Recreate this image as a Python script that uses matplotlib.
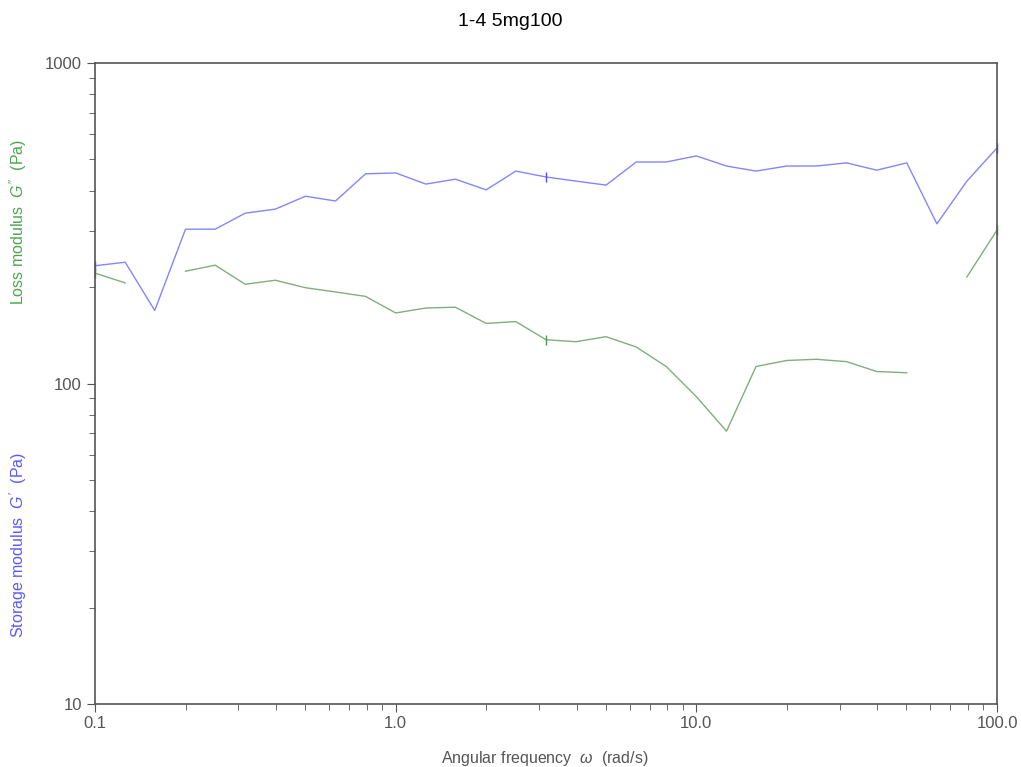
import matplotlib
matplotlib.use("Agg")
import matplotlib.pyplot as plt
import numpy as np
from matplotlib.ticker import FixedLocator, FixedFormatter, LogLocator, NullFormatter

plt.rcParams["font.family"] = ["Liberation Sans", "DejaVu Sans"]
plt.rcParams["mathtext.fontset"] = "custom"
plt.rcParams["mathtext.it"] = "Liberation Sans:italic"
plt.rcParams["mathtext.rm"] = "Liberation Sans"

# angular frequency (rad/s), 10 points per decade
omega = [0.1, 0.126, 0.158, 0.2, 0.251, 0.316, 0.398, 0.501, 0.631, 0.794,
         1.0, 1.26, 1.58, 2.0, 2.51, 3.16, 3.98, 5.01, 6.31, 7.94,
         10.0, 12.6, 15.8, 20.0, 25.1, 31.6, 39.8, 50.1, 63.1, 79.4, 100.0]

# storage modulus G' (Pa)
g_storage = [233, 239, 169, 303, 303, 340, 350, 384, 371, 451,
             454, 419, 434, 402, 460, 441, 428, 416, 491, 491,
             513, 477, 460, 477, 477, 488, 463, 488, 315, 428, 543]

# loss modulus G'' (Pa), nan = missing point
g_loss = [221, 206, np.nan, 224, 234, 204, 210, 199, 193, 187,
          166, 172, 173, 154, 156, 137, 135, 140, 130, 113,
          91, 71, 113, 118, 119, 117, 109, 108, np.nan, 215, 301]

title = "1-4 5mg100"

fig = plt.figure(figsize=(10.21, 7.67), dpi=100)
ax = fig.add_axes([95 / 1021, 63 / 767, 902 / 1021, 641 / 767])

ax.plot(omega, g_storage, color="#8585ff", lw=1.0, marker="|", markevery=[0, 15, 30],
        markersize=7, markeredgecolor="#5050ff", clip_on=False)
ax.plot(omega, g_loss, color="#80ae80", lw=1.0, marker="|", markevery=[0, 15, 30],
        markersize=7, markeredgecolor="#4f9a4f", clip_on=False)

ax.set_xscale("log")
ax.set_yscale("log")
ax.set_xlim(0.1, 100)
ax.set_ylim(10, 1000)

ax.xaxis.set_major_locator(FixedLocator([0.1, 1, 10, 100]))
ax.xaxis.set_major_formatter(FixedFormatter(["0.1", "1.0", "10.0", "100.0"]))
ax.yaxis.set_major_locator(FixedLocator([10, 100, 1000]))
ax.yaxis.set_major_formatter(FixedFormatter(["10", "100", "1000"]))
ax.xaxis.set_minor_locator(LogLocator(base=10, subs=np.arange(2, 10)))
ax.yaxis.set_minor_locator(LogLocator(base=10, subs=np.arange(2, 10)))
ax.xaxis.set_minor_formatter(NullFormatter())
ax.yaxis.set_minor_formatter(NullFormatter())

for s in ax.spines.values():
    s.set_color("#555555")
    s.set_linewidth(1.2)

ax.tick_params(which="both", direction="out", colors="#555555", labelcolor="#555555",
               labelsize=12, top=False, right=False)
ax.tick_params(which="major", length=6)
ax.tick_params(which="minor", length=4)
ax.tick_params(axis="x", pad=3)

fig.text(545 / 1021, 1 - 758 / 767, r"Angular frequency  $\omega$  (rad/s)",
         color="#555555", fontsize=11.5, ha="center", va="center")

fig.text(18 / 1021, 1 - 222 / 767, "Loss modulus  $G''$  (Pa)", rotation=90,
         color="#4ca64c", fontsize=11.5, ha="center", va="center")
fig.text(18 / 1021, 1 - 545 / 767, "Storage modulus  $G'$  (Pa)", rotation=90,
         color="#5a5aff", fontsize=11.5, ha="center", va="center")

fig.text(0.5, 1 - 22 / 767, title, ha="center", va="center", fontsize=14, color="black")

fig.savefig("out.png", dpi=100)
